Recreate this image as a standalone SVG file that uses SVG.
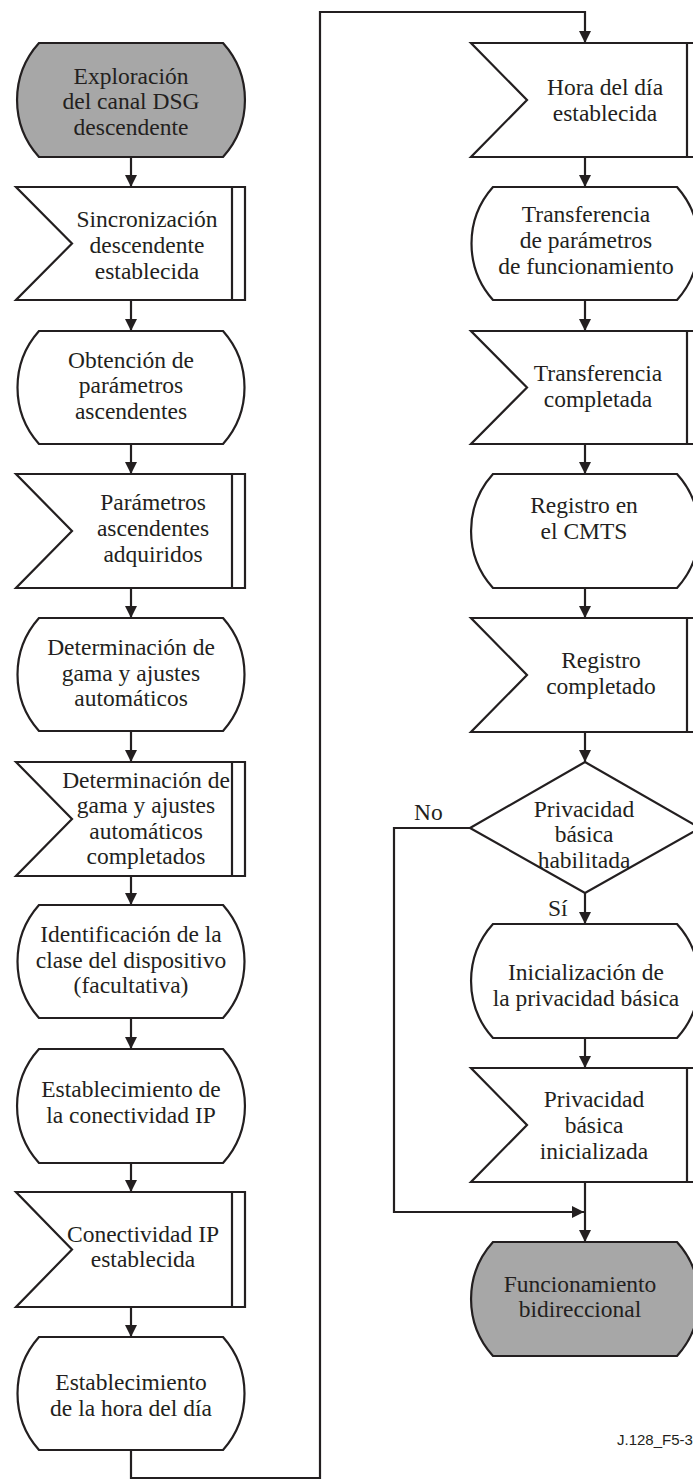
<svg xmlns="http://www.w3.org/2000/svg" width="693" height="1479" viewBox="0 0 693 1479">
<style>
.s{fill:#ffffff;stroke:#231f20;stroke-width:2.2;stroke-linejoin:miter}
.g{fill:#a7a7a7;stroke:#231f20;stroke-width:2.2}
.ln{fill:none;stroke:#231f20;stroke-width:2.2}
.c{fill:none;stroke:#231f20;stroke-width:2.2}
text{font-family:"Liberation Serif","Times New Roman",serif;font-size:23.5px;fill:#231f20;text-anchor:middle}
.lbl{text-anchor:start}
.ref{font-family:"Liberation Sans",Arial,sans-serif;font-size:15px;text-anchor:start}
</style>
<defs>
<marker id="ah" markerUnits="userSpaceOnUse" markerWidth="12" markerHeight="12" refX="12" refY="6" orient="auto">
<path d="M0,0 L12,6 L0,12 Z" fill="#231f20"/>
</marker>
</defs>

<g id="connectors">
<line class="c" x1="131" y1="157" x2="131" y2="187" marker-end="url(#ah)"/>
<line class="c" x1="131" y1="300" x2="131" y2="331" marker-end="url(#ah)"/>
<line class="c" x1="131" y1="444" x2="131" y2="474" marker-end="url(#ah)"/>
<line class="c" x1="131" y1="588" x2="131" y2="618" marker-end="url(#ah)"/>
<line class="c" x1="131" y1="731" x2="131" y2="762" marker-end="url(#ah)"/>
<line class="c" x1="131" y1="876" x2="131" y2="905" marker-end="url(#ah)"/>
<line class="c" x1="131" y1="1018" x2="131" y2="1049" marker-end="url(#ah)"/>
<line class="c" x1="131" y1="1163" x2="131" y2="1192" marker-end="url(#ah)"/>
<line class="c" x1="131" y1="1307" x2="131" y2="1337" marker-end="url(#ah)"/>
<polyline class="c" points="131,1450 131,1478 320,1478 320,12 585,12 585,43" marker-end="url(#ah)"/>
<line class="c" x1="585" y1="157" x2="585" y2="187" marker-end="url(#ah)"/>
<line class="c" x1="585" y1="300" x2="585" y2="331" marker-end="url(#ah)"/>
<line class="c" x1="585" y1="444" x2="585" y2="474" marker-end="url(#ah)"/>
<line class="c" x1="585" y1="588" x2="585" y2="618" marker-end="url(#ah)"/>
<line class="c" x1="585" y1="732" x2="585" y2="762" marker-end="url(#ah)"/>
<line class="c" x1="585" y1="893" x2="585" y2="924" marker-end="url(#ah)"/>
<line class="c" x1="585" y1="1038" x2="585" y2="1068" marker-end="url(#ah)"/>
<line class="c" x1="585" y1="1182" x2="585" y2="1242" marker-end="url(#ah)"/>
<polyline class="c" points="470,828 394,828 394,1212 584,1212" marker-end="url(#ah)"/>
<text class="lbl" x="414" y="820">No</text>
<text class="lbl" x="548" y="916">Sí</text>
</g>

<g id="n1">
<path class="g" d="M39,43 H223 A85,85 0 0 1 223,157 H39 A85,85 0 0 1 39,43 Z"/>
<text x="131" y="84">Exploración</text>
<text x="131" y="109">del canal DSG</text>
<text x="131" y="134.5">descendente</text>
</g>

<g id="n2">
<polygon class="s" points="16,187 245,187 245,300 16,300 72,243.5"/>
<line class="ln" x1="232" y1="187" x2="232" y2="300"/>
<text x="147" y="227">Sincronización</text>
<text x="147" y="253">descendente</text>
<text x="147" y="278.5">establecida</text>
</g>

<g id="n3">
<path class="s" d="M39,331 H223 A85,85 0 0 1 223,444 H39 A85,85 0 0 1 39,331 Z"/>
<text x="131" y="367.5">Obtención de</text>
<text x="131" y="393">parámetros</text>
<text x="131" y="418.5">ascendentes</text>
</g>

<g id="n4">
<polygon class="s" points="16,474 245,474 245,588 16,588 72,531"/>
<line class="ln" x1="232" y1="474" x2="232" y2="588"/>
<text x="153" y="510">Parámetros</text>
<text x="153" y="536">ascendentes</text>
<text x="153" y="562">adquiridos</text>
</g>

<g id="n5">
<path class="s" d="M39,618 H223 A85,85 0 0 1 223,731 H39 A85,85 0 0 1 39,618 Z"/>
<text x="131" y="655">Determinación de</text>
<text x="131" y="680.5">gama y ajustes</text>
<text x="131" y="706">automáticos</text>
</g>

<g id="n6">
<polygon class="s" points="16,762 245,762 245,876 16,876 72,819"/>
<line class="ln" x1="232" y1="762" x2="232" y2="876"/>
<text x="146" y="788">Determinación de</text>
<text x="146" y="813">gama y ajustes</text>
<text x="146" y="839">automáticos</text>
<text x="146" y="864">completados</text>
</g>

<g id="n7">
<path class="s" d="M39,905 H223 A85,85 0 0 1 223,1018 H39 A85,85 0 0 1 39,905 Z"/>
<text x="131" y="942">Identificación de la</text>
<text x="131" y="967.5">clase del dispositivo</text>
<text x="131" y="993">(facultativa)</text>
</g>

<g id="n8">
<path class="s" d="M39,1049 H223 A85,85 0 0 1 223,1163 H39 A85,85 0 0 1 39,1049 Z"/>
<text x="131" y="1097">Establecimiento de</text>
<text x="131" y="1123">la conectividad IP</text>
</g>

<g id="n9">
<polygon class="s" points="16,1192 245,1192 245,1307 16,1307 72,1249.5"/>
<line class="ln" x1="232" y1="1192" x2="232" y2="1307"/>
<text x="143" y="1242">Conectividad IP</text>
<text x="143" y="1267">establecida</text>
</g>

<g id="n10">
<path class="s" d="M39,1337 H223 A85,85 0 0 1 223,1450 H39 A85,85 0 0 1 39,1337 Z"/>
<text x="131" y="1390">Establecimiento</text>
<text x="131" y="1416">de la hora del día</text>
</g>

<g id="r1">
<polygon class="s" points="471,43 700,43 700,157 471,157 527,100"/>
<line class="ln" x1="687" y1="43" x2="687" y2="157"/>
<text x="605" y="95">Hora del día</text>
<text x="605" y="121">establecida</text>
</g>

<g id="r2">
<path class="s" d="M493,187 H677 A85,85 0 0 1 677,300 H493 A85,85 0 0 1 493,187 Z"/>
<text x="586" y="222">Transferencia</text>
<text x="586" y="248">de parámetros</text>
<text x="586" y="273.5">de funcionamiento</text>
</g>

<g id="r3">
<polygon class="s" points="471,331 700,331 700,444 471,444 527,387.5"/>
<line class="ln" x1="687" y1="331" x2="687" y2="444"/>
<text x="598" y="381">Transferencia</text>
<text x="598" y="407">completada</text>
</g>

<g id="r4">
<path class="s" d="M493,474 H677 A85,85 0 0 1 677,588 H493 A85,85 0 0 1 493,474 Z"/>
<text x="584" y="512.5">Registro en</text>
<text x="584" y="539">el CMTS</text>
</g>

<g id="r5">
<polygon class="s" points="471,618 700,618 700,732 471,732 527,675"/>
<line class="ln" x1="687" y1="618" x2="687" y2="732"/>
<text x="601" y="668">Registro</text>
<text x="601" y="694">completado</text>
</g>

<g id="r6">
<polygon class="s" points="585,762 700,828 585,893 470,828"/>
<text x="584" y="817">Privacidad</text>
<text x="584" y="842">básica</text>
<text x="584" y="867.5">habilitada</text>
</g>

<g id="r7">
<path class="s" d="M493,924 H677 A85,85 0 0 1 677,1038 H493 A85,85 0 0 1 493,924 Z"/>
<text x="586" y="980">Inicialización de</text>
<text x="586" y="1006">la privacidad básica</text>
</g>

<g id="r8">
<polygon class="s" points="471,1068 700,1068 700,1182 471,1182 527,1125"/>
<line class="ln" x1="687" y1="1068" x2="687" y2="1182"/>
<text x="594" y="1107">Privacidad</text>
<text x="594" y="1133">básica</text>
<text x="594" y="1159">inicializada</text>
</g>

<g id="r9">
<path class="g" d="M493,1242 H677 A85,85 0 0 1 677,1356 H493 A85,85 0 0 1 493,1242 Z"/>
<text x="580" y="1292">Funcionamiento</text>
<text x="580" y="1317">bidireccional</text>
</g>

<text class="ref" x="617" y="1445">J.128_F5-3</text>
</svg>
